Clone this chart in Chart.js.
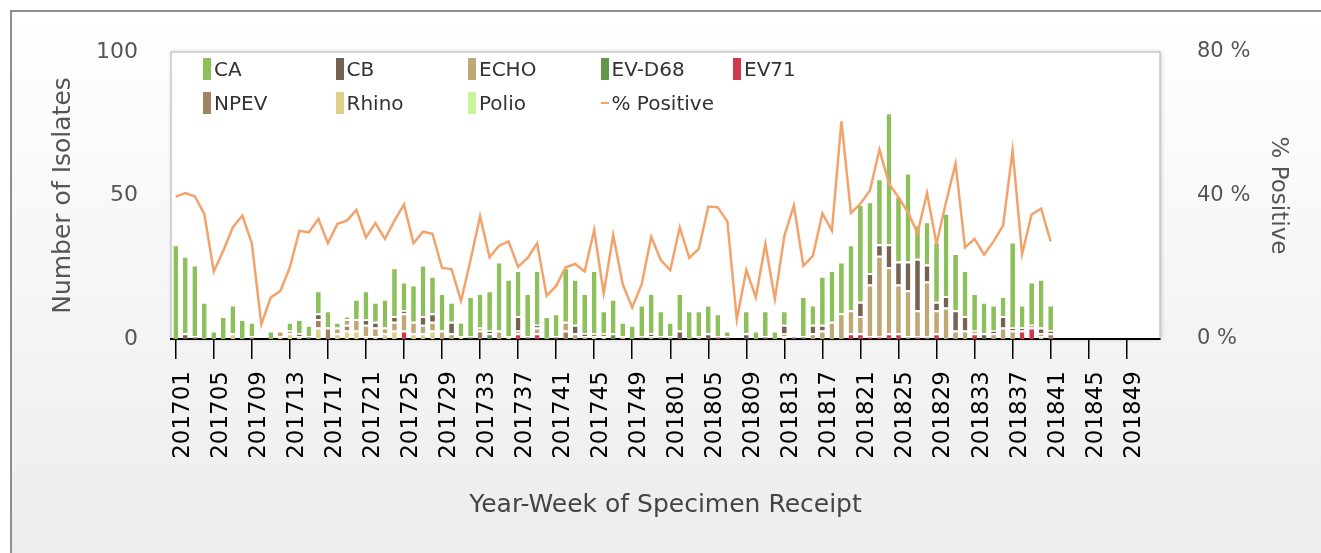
<!DOCTYPE html>
<html>
<head>
<meta charset="utf-8">
<script src="https://cdn.jsdelivr.net/npm/chart.js@4.4.1/dist/chart.umd.min.js"></script>
<style>
  html, body { margin: 0; padding: 0; background: #fff; overflow: hidden; }
  body { width: 1321px; height: 553px; position: relative; font-family: "DejaVu Sans", sans-serif; }
  #frame { position: absolute; left: 10px; top: 10px; width: 1400px; height: 560px; box-sizing: border-box;
           border: 2px solid #8e8e8e; background: linear-gradient(#ffffff, #ececec); }
  #wrap { position: absolute; left: 0; top: 0; width: 1321px; height: 553px; }
  #legend { position: absolute; left: 0; top: 0; }
  .item { position: absolute; height: 22px; display: flex; align-items: center; font-size: 20px; color: #333; white-space: nowrap; }
  .sw { width: 8px; height: 22px; margin-right: 3px; }
  .dash { width: 8px; height: 2px; margin-right: 3px; }
</style>
</head>
<body>
<div id="frame"></div>
<div id="wrap"><canvas id="myChart" width="1321" height="553"></canvas></div>
<div id="legend"></div>
<script>
// week labels 201701 .. 201852
const weeks = [];
for (const yr of [2017, 2018]) {
  for (let w = 1; w <= 52; w++) weeks.push(yr + String(w).padStart(2, "0"));
}

// isolates per week, 201701 .. 201841
const ca = [33, 27, 25, 13, 3, 8, 10, 7, 5, 0, 3, 0, 3, 5, 4, 8, 6, 2, 1, 7,
  10, 7, 10, 17, 10, 13, 18, 13, 13, 7, 5, 14, 12, 14, 24, 20, 16, 15, 19, 8,
  8, 19, 16, 14, 22, 8, 12, 5, 5, 11, 14, 9, 5, 13, 10, 9, 10, 8, 2, 0,
  8, 3, 9, 3, 5, 0, 14, 7, 17, 18, 18, 23, 34, 25, 23, 46, 23, 31, 12, 15,
  21, 29, 20, 16, 13, 11, 9, 7, 30, 8, 15, 17, 9];
const cb = [0, 2, 1, 0, 0, 0, 0, 0, 0, 0, 0, 0, 0, 1, 1, 2, 0, 0, 0, 0,
  2, 2, 0, 2, 1, 0, 3, 3, 0, 4, 0, 1, 0, 1, 0, 0, 5, 1, 1, 0,
  1, 0, 3, 1, 0, 0, 0, 0, 0, 1, 1, 1, 0, 3, 0, 0, 2, 0, 1, 0,
  2, 0, 1, 0, 3, 1, 1, 3, 2, 0, 0, 0, 5, 4, 4, 8, 8, 10, 18, 6,
  3, 4, 7, 5, 0, 2, 1, 4, 1, 1, 0, 2, 1];
const echo = [0, 0, 0, 0, 0, 0, 0, 0, 0, 0, 0, 2, 1, 0, 0, 0, 0, 2, 2, 4,
  4, 3, 2, 3, 6, 4, 3, 3, 3, 2, 0, 0, 1, 0, 3, 0, 1, 0, 2, 0,
  0, 3, 2, 1, 0, 0, 0, 0, 0, 0, 1, 0, 1, 0, 0, 1, 0, 0, 0, 0,
  0, 0, 0, 0, 1, 0, 0, 2, 3, 6, 9, 8, 6, 18, 28, 23, 17, 16, 9, 19,
  8, 11, 3, 3, 1, 0, 2, 4, 3, 0, 1, 1, 0];
const evd68 = [0, 0, 0, 0, 0, 0, 0, 0, 0, 0, 0, 0, 0, 0, 0, 0, 0, 0, 0, 0,
  0, 0, 0, 0, 0, 0, 0, 0, 0, 0, 0, 0, 0, 2, 0, 0, 0, 0, 0, 0,
  0, 0, 0, 0, 0, 0, 2, 0, 0, 0, 0, 0, 0, 0, 0, 0, 0, 0, 0, 0,
  0, 0, 0, 0, 0, 0, 0, 0, 0, 0, 0, 0, 0, 0, 0, 0, 0, 0, 0, 0,
  0, 0, 0, 0, 0, 0, 0, 0, 0, 0, 0, 0, 0];
const ev71 = [0, 0, 0, 0, 0, 0, 0, 0, 0, 0, 0, 0, 0, 0, 0, 0, 0, 0, 0, 0,
  0, 0, 0, 0, 3, 0, 0, 0, 0, 0, 0, 0, 0, 0, 0, 0, 2, 0, 2, 0,
  0, 0, 0, 0, 0, 0, 0, 0, 0, 0, 0, 0, 0, 0, 0, 0, 0, 1, 0, 0,
  0, 0, 0, 0, 0, 0, 0, 0, 0, 0, 0, 2, 2, 1, 1, 2, 2, 0, 1, 0,
  2, 0, 0, 0, 2, 0, 0, 0, 0, 3, 4, 0, 0];
const npev = [0, 0, 0, 0, 0, 0, 0, 0, 1, 0, 0, 0, 0, 0, 0, 3, 4, 0, 2, 0,
  0, 0, 0, 0, 0, 0, 0, 0, 0, 0, 0, 0, 3, 0, 0, 0, 0, 0, 0, 0,
  0, 3, 0, 0, 1, 1, 0, 0, 0, 0, 0, 0, 0, 0, 0, 0, 0, 0, 0, 0,
  0, 0, 0, 0, 0, 0, 0, 0, 0, 0, 0, 0, 0, 0, 0, 0, 0, 1, 0, 1,
  0, 0, 0, 0, 0, 0, 0, 0, 0, 0, 0, 0, 2];
const rhino = [0, 0, 0, 0, 0, 0, 2, 0, 0, 0, 0, 1, 2, 1, 0, 4, 0, 2, 3, 3,
  1, 1, 2, 3, 0, 2, 2, 3, 0, 0, 1, 0, 0, 0, 0, 1, 0, 0, 0, 0,
  0, 0, 0, 0, 1, 1, 0, 1, 0, 0, 0, 0, 0, 0, 0, 0, 0, 0, 0, 0,
  0, 0, 0, 0, 1, 0, 0, 0, 0, 0, 0, 0, 0, 0, 0, 0, 0, 0, 0, 0,
  0, 0, 0, 0, 0, 0, 0, 0, 0, 0, 0, 1, 0];
const polio = [];

// % positive, 201701 .. 201841
const pctPositive = [39.7, 40.7, 39.8, 34.9, 18.8, 24.6, 31.1, 34.4, 26.7, 4.1,
  11.6, 13.4, 20, 30.2, 29.7, 33.5, 26.7, 32.1, 33, 36,
  28.3, 32.3, 27.9, 33, 37.5, 26.7, 29.9, 29.3, 19.8, 19.5,
  10.6, 22, 34.2, 22.8, 26, 27.2, 20.1, 22.6, 26.7, 12,
  14.8, 20, 20.9, 18.8, 30.4, 12.7, 29, 15.3, 8.8, 15.3,
  28.5, 22, 19.2, 31.1, 22.6, 25.1, 36.9, 36.7, 32.8, 5.5,
  19.2, 11.6, 26.5, 11.1, 28.8, 37.2, 20.4, 23.2, 35, 30.2,
  60.7, 35.1, 37.7, 41.4, 52.8, 43.3, 39.5, 35.3, 29.5, 40.7,
  26.5, 38.1, 48.9, 25.5, 27.9, 23.5, 27.2, 31.6, 52.6, 23.7,
  34.7, 36.3, 27.2];

const seriesNames = ["CA", "CB", "ECHO", "EV-D68", "EV71", "NPEV", "Rhino", "Polio"];
const seriesColors = ["#8dc05a", "#756252", "#bea873", "#63964b", "#d2374b", "#a3825f", "#ded08a", "#c8f596"];
const seriesData = [ca, cb, echo, evd68, ev71, npev, rhino, polio];
const lineName = "% Positive";
const lineColor = "#f2a36c";

// white plot area with a soft grey frame
const plotBox = {
  id: "plotBox",
  beforeDraw(chart) {
    const { ctx, chartArea: a } = chart;
    ctx.save();
    ctx.fillStyle = "#fff";
    ctx.shadowColor = "rgba(0,0,0,0.25)";
    ctx.shadowBlur = 4;
    ctx.shadowOffsetX = 1;
    ctx.fillRect(a.left, a.top, a.right - a.left, a.bottom - a.top);
    ctx.restore();
    ctx.save();
    ctx.strokeStyle = "#c6c6c6";
    ctx.lineWidth = 1.5;
    ctx.strokeRect(a.left, a.top, a.right - a.left, a.bottom - a.top);
    ctx.restore();
  },
};

// bottom of stack = Polio, top = CA
const barSets = seriesNames.map((name, k) => ({
  type: "bar",
  label: name,
  data: seriesData[k],
  backgroundColor: seriesColors[k],
  borderColor: "#fff",
  borderWidth: { top: 2, right: 0, bottom: 0, left: 0 },
  borderSkipped: "start",
  barPercentage: 0.5,
  categoryPercentage: 1,
  yAxisID: "y",
})).reverse();

const ctx_1 = document.getElementById("myChart");

new Chart(ctx_1, {
  type: "bar",
  data: {
    labels: weeks,
    datasets: [
      {
        type: "line",
        label: lineName,
        data: pctPositive,
        yAxisID: "y1",
        borderColor: lineColor,
        backgroundColor: lineColor,
        borderWidth: 2.5,
        pointRadius: 0,
        tension: 0,
        fill: false,
      },
      ...barSets,
    ],
  },
  options: {
    responsive: false,
    animation: false,
    layout: { padding: { top: 52, left: 0, right: 0, bottom: 0 } },
    plugins: {
      legend: { display: false },
      tooltip: { enabled: false },
    },
    scales: {
      x: {
        stacked: true,
        offset: true,
        grid: {
          display: true,
          drawOnChartArea: false,
          drawTicks: true,
          tickLength: 20,
          color: "#000",
          lineWidth: 1.5,
          offset: false,
        },
        border: { display: true, color: "#000", width: 2 },
        ticks: {
          autoSkip: false,
          maxRotation: 90,
          minRotation: 90,
          padding: 12,
          labelOffset: 7,
          color: "#000",
          font: { family: "DejaVu Sans", size: 23 },
          callback: (v, i) => (i % 4 === 0 ? weeks[i] : null),
        },
        title: {
          display: true,
          text: "Year-Week of Specimen Receipt",
          color: "#444",
          font: { family: "DejaVu Sans", size: 25 },
          padding: { top: 0, bottom: 33 },
        },
        afterFit: (s) => { s.height = 214; },
      },
      y: {
        stacked: true,
        position: "left",
        min: 0,
        max: 100,
        ticks: { stepSize: 50, padding: 33, color: "#555", font: { family: "DejaVu Sans", size: 22 } },
        grid: { display: false, drawTicks: false },
        border: { display: false },
        title: {
          display: true,
          text: "Number of Isolates",
          color: "#555",
          font: { family: "DejaVu Sans", size: 25 },
          padding: { top: 48, bottom: 0 },
        },
        afterFit: (s) => { s.width = 171; },
      },
      y1: {
        position: "right",
        min: 0,
        max: 80,
        ticks: {
          stepSize: 40,
          padding: 37,
          color: "#555",
          font: { family: "DejaVu Sans", size: 21 },
          callback: (v) => v + " %",
        },
        grid: { display: false, drawTicks: false },
        border: { display: false },
        title: {
          display: true,
          text: "% Positive",
          color: "#555",
          font: { family: "DejaVu Sans", size: 23 },
          padding: { top: 29, bottom: 0 },
        },
        afterFit: (s) => { s.width = 161; },
      },
    },
  },
  plugins: [plotBox],
});

// legend laid out as a 5-column grid inside the plot box
const legendEl = document.getElementById("legend");
const colX = [203, 335.5, 468, 600.5, 733];
const rowY = [58, 92];
const legendItems = seriesNames.map((n, k) => ({ name: n, color: seriesColors[k], line: false }));
legendItems.push({ name: lineName, color: lineColor, line: true });
legendItems.forEach((it, k) => {
  const div = document.createElement("div");
  div.className = "item";
  div.style.left = colX[k % 5] + "px";
  div.style.top = rowY[Math.floor(k / 5)] + "px";
  const mark = document.createElement("span");
  mark.className = it.line ? "dash" : "sw";
  mark.style.background = it.color;
  div.appendChild(mark);
  div.appendChild(document.createTextNode(it.name));
  legendEl.appendChild(div);
});
</script>
</body>
</html>
